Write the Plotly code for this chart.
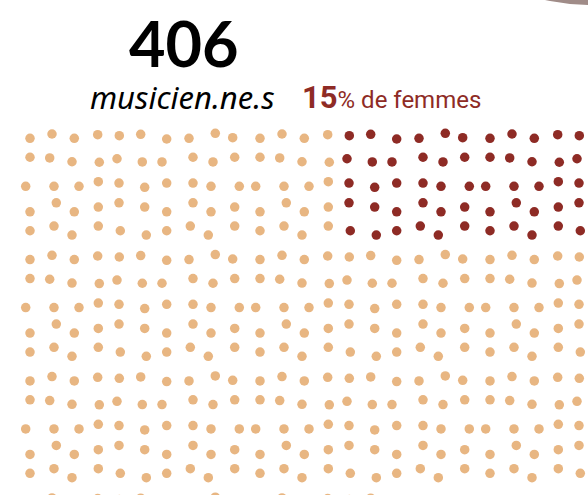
import plotly.graph_objects as go

# data
total_musicians = 406
women_count = 60
n_cols = 26
women_rows = 5  # women dots fill the top rows, from the right

# layout of the dot field (pixels)
X0 = 30
Y0 = 136
COL_PITCH = 23
ROW_PITCH = 24.26
# the jitter pattern repeats every 10 columns and 5 rows
TILE_DX = [
    [0, -1, -1.7, -1.3, -2.7, -4.3, -1.3, -2, 1.3, -4.3],
    [0, -3.3, -4, 0.3, -5, -2.7, -6, 2, -1, -2.3],
    [-4.3, 1, 3, -0.7, -3, -0.3, -1.3, 2, -3, 2.3],
    [0, 3.3, -1.7, -0.7, -3, -0.3, -1.3, 2, -3, -2.3],
    [0, 1, -4, -0.7, -1.7, 1.3, -1.3, -0.7, -5.7, -2.3],
]
TILE_DY = [
    [2.3, -2, 2.3, -1.3, -0.3, -1.7, 3, 2.3, -2.7, 1.7],
    [-3, -2.3, 1.5, 2, -1.5, 1.7, 1.7, -3, 1.7, -3],
    [1.8, 1.8, 1.8, -2.8, -1.5, 2.8, -1.5, -1.5, 1.8, 1.8],
    [3, -6, 3, -1.7, -6, -1.7, 3, -6, 3, -1.7],
    [-2.3, -7, 2, -7, -2.3, 2, -2.3, -7, 2, -7],
]

MEN_COLOR = '#E8B682'
WOMEN_COLOR = '#8E2B25'

cells = [(i // n_cols, i % n_cols) for i in range(total_musicians)]
women_cells = sorted(
    [c for c in cells if c[0] < women_rows],
    key=lambda rc: (-rc[1], rc[0])
)[:women_count]
women_set = set(women_cells)


def pos(r, c):
    x = X0 + COL_PITCH * c + TILE_DX[r % 5][c % 10]
    y = Y0 + ROW_PITCH * r + TILE_DY[r % 5][c % 10]
    return x, y


men_xy = [pos(r, c) for r, c in cells if (r, c) not in women_set]
women_xy = [pos(r, c) for r, c in women_cells]

fig = go.Figure()

fig.add_trace(
    go.Scatter(
        x=[p[0] for p in men_xy],
        y=[p[1] for p in men_xy],
        mode='markers',
        marker=dict(size=9.5, color=MEN_COLOR),
        hoverinfo='skip'
    )
)

fig.add_trace(
    go.Scatter(
        x=[p[0] for p in women_xy],
        y=[p[1] for p in women_xy],
        mode='markers',
        marker=dict(size=9.5, color=WOMEN_COLOR),
        hoverinfo='skip'
    )
)

pct = round(100 * women_count / total_musicians)

fig.add_annotation(
    x=184, y=42, text='<b>%d</b>' % total_musicians,
    showarrow=False, xanchor='center', yanchor='middle',
    font=dict(family='Lato', size=63, color='#000000')
)
fig.add_annotation(
    x=88, y=97, text='<i>musicien.ne.s</i>',
    showarrow=False, xanchor='left', yanchor='middle',
    font=dict(family='Noto Sans', size=31, color='#000000')
)
fig.add_annotation(
    x=300, y=97,
    text='<b>%d</b><span style="font-size:24px">%% de femmes</span>' % pct,
    showarrow=False, xanchor='left', yanchor='middle',
    font=dict(family='Roboto', size=31, color=WOMEN_COLOR)
)

# edge of a round picture sitting above the chart
fig.add_shape(
    type='circle', x0=385, x1=795, y0=-405, y1=5,
    fillcolor='#A08C88', line=dict(width=0), layer='below'
)

fig.update_layout(
    width=588,
    height=495,
    margin=dict(l=0, r=0, t=0, b=0),
    paper_bgcolor='white',
    plot_bgcolor='white',
    showlegend=False,
    xaxis=dict(range=[0, 588], visible=False, fixedrange=True),
    yaxis=dict(range=[495, 0], visible=False, fixedrange=True)
)

fig.write_html(
    'out.html',
    config={'displayModeBar': False},
    post_script="document.body.style.margin='0';"
)
